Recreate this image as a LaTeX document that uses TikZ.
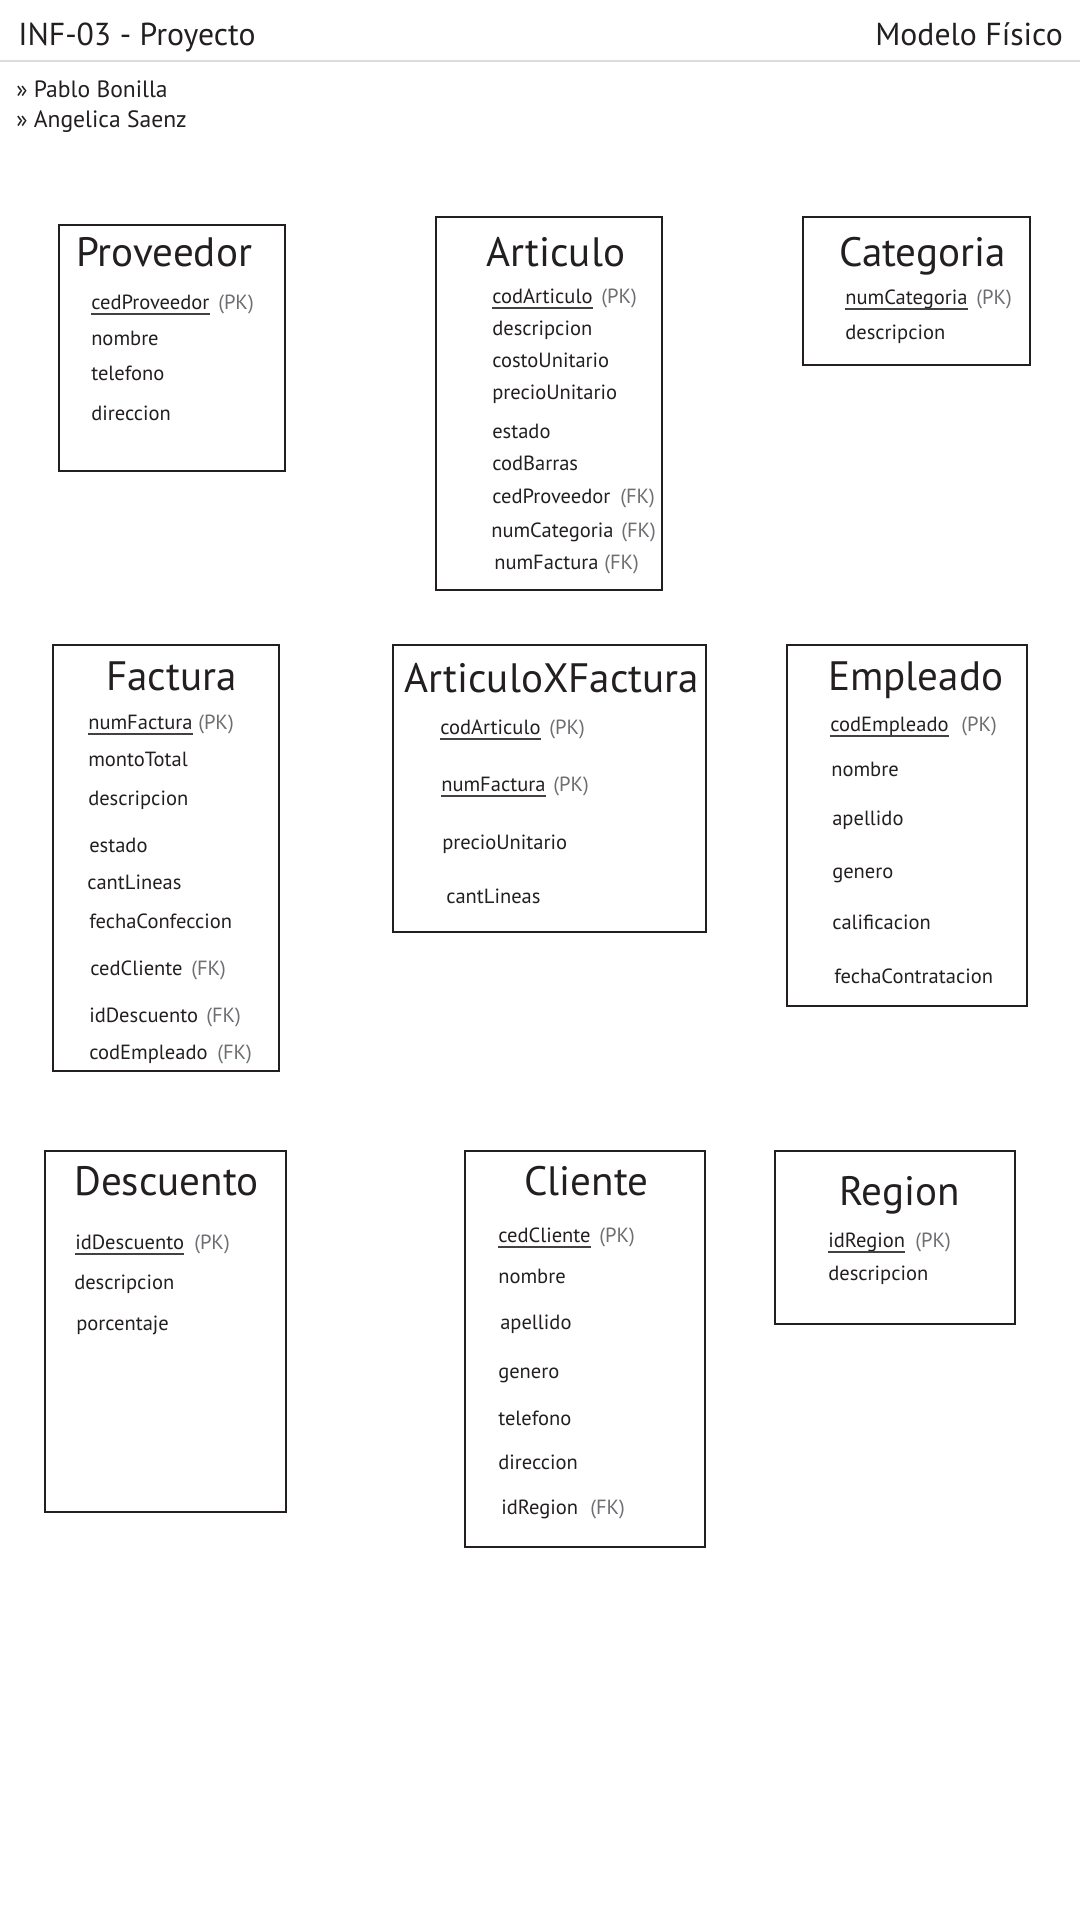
\documentclass[tikz,border=0pt]{standalone}
\usepackage{fontspec}
\setmainfont{PT Sans}
\definecolor{tinta}{HTML}{231F20}
\definecolor{gris}{HTML}{6D6E71}
\definecolor{regla}{HTML}{DCDCDC}
\newcommand{\subrayar}[1]{\draw[subr] ([shift={(0,5)}]#1.base west) -- ([shift={(0,5)}]#1.base east);}
\begin{document}
\begin{tikzpicture}[x=0.75pt, y=-0.75pt,
    caja/.style={draw=tinta, line width=0.8pt},
    titulo/.style={anchor=base west, inner sep=0pt, text=tinta, font=\fontsize{30.8}{30.8}\selectfont},
    campo/.style={anchor=base west, inner sep=0pt, text=tinta, font=\fontsize{15.4}{15.4}\selectfont},
    llave/.style={campo, text=gris},
    encab/.style={inner sep=0pt, text=tinta, font=\fontsize{23.8}{23.8}\selectfont},
    autor/.style={anchor=base west, inner sep=0pt, text=tinta, font=\fontsize{17.7}{17.7}\selectfont},
    subr/.style={draw=tinta!85, line width=0.8pt}]
    \useasboundingbox (0,0) rectangle (1080,1920);
    % encabezado
    \node[encab, anchor=base west] (proy) at (18,45) {INF-03 - Proyecto};
    \node[encab, anchor=base east] (modelo) at (1063,45) {Modelo Físico};
    \draw[regla, line width=2pt] (0,61) -- (1080,61);
    \node[autor] (aut1) at (16,97) {» Pablo Bonilla};
    \node[autor] (aut2) at (16,127) {» Angelica Saenz};
    % Proveedor
    \draw[caja] (59,225) rectangle (285,471);
    \node[titulo] (provT) at (76,266) {Proveedor};
    \node[campo] (prov1) at (91,309) {cedProveedor}; \node[llave] (prov1k) at (218,309) {(PK)};
    \node[campo] (prov2) at (91,345) {nombre};
    \node[campo] (prov3) at (91,380) {telefono};
    \node[campo] (prov4) at (91,420) {direccion};
    \subrayar{prov1}
    % Articulo
    \draw[caja] (436,217) rectangle (662,590);
    \node[titulo] (artT) at (486,266) {Articulo};
    \node[campo] (art1) at (492,303) {codArticulo}; \node[llave] (art1k) at (601,303) {(PK)};
    \node[campo] (art2) at (492,335) {descripcion};
    \node[campo] (art3) at (492,367) {costoUnitario};
    \node[campo] (art4) at (492,399) {precioUnitario};
    \node[campo] (art5) at (492,438) {estado};
    \node[campo] (art6) at (492,470) {codBarras};
    \node[campo] (art7) at (492,503) {cedProveedor}; \node[llave] (art7k) at (620,503) {(FK)};
    \node[campo] (art8) at (491,537) {numCategoria}; \node[llave] (art8k) at (621,537) {(FK)};
    \node[campo] (art9) at (494,569) {numFactura}; \node[llave] (art9k) at (604,569) {(FK)};
    \subrayar{art1}
    % Categoria
    \draw[caja] (803,217) rectangle (1030,365);
    \node[titulo] (catT) at (839,266) {Categoria};
    \node[campo] (cat1) at (845,304) {numCategoria}; \node[llave] (cat1k) at (976,304) {(PK)};
    \node[campo] (cat2) at (845,339) {descripcion};
    \subrayar{cat1}
    % Factura
    \draw[caja] (53,645) rectangle (279,1071);
    \node[titulo] (facT) at (106,690) {Factura};
    \node[campo] (fac1) at (88,729) {numFactura}; \node[llave] (fac1k) at (198,729) {(PK)};
    \node[campo] (fac2) at (88,766) {montoTotal};
    \node[campo] (fac3) at (88,805) {descripcion};
    \node[campo] (fac4) at (89,852) {estado};
    \node[campo] (fac5) at (87,889) {cantLineas};
    \node[campo] (fac6) at (89,928) {fechaConfeccion};
    \node[campo] (fac7) at (90,975) {cedCliente}; \node[llave] (fac7k) at (191,975) {(FK)};
    \node[campo] (fac8) at (89,1022) {idDescuento}; \node[llave] (fac8k) at (206,1022) {(FK)};
    \node[campo] (fac9) at (89,1059) {codEmpleado}; \node[llave] (fac9k) at (217,1059) {(FK)};
    \subrayar{fac1}
    % ArticuloXFactura
    \draw[caja] (393,645) rectangle (706,932);
    \node[titulo] (axfT) at (404,692) {ArticuloXFactura};
    \node[campo] (axf1) at (440,734) {codArticulo}; \node[llave] (axf1k) at (549,734) {(PK)};
    \node[campo] (axf2) at (441,791) {numFactura}; \node[llave] (axf2k) at (553,791) {(PK)};
    \node[campo] (axf3) at (442,849) {precioUnitario};
    \node[campo] (axf4) at (446,903) {cantLineas};
    \subrayar{axf1} \subrayar{axf2}
    % Empleado
    \draw[caja] (787,645) rectangle (1027,1006);
    \node[titulo] (empT) at (828,690) {Empleado};
    \node[campo] (emp1) at (830,731) {codEmpleado}; \node[llave] (emp1k) at (961,731) {(PK)};
    \node[campo] (emp2) at (831,776) {nombre};
    \node[campo] (emp3) at (832,825) {apellido};
    \node[campo] (emp4) at (832,878) {genero};
    \node[campo] (emp5) at (832,929) {calificacion};
    \node[campo] (emp6) at (834,983) {fechaContratacion};
    \subrayar{emp1}
    % Descuento
    \draw[caja] (45,1151) rectangle (286,1512);
    \node[titulo] (desT) at (74,1195) {Descuento};
    \node[campo] (des1) at (75,1249) {idDescuento}; \node[llave] (des1k) at (194,1249) {(PK)};
    \node[campo] (des2) at (74,1289) {descripcion};
    \node[campo] (des3) at (76,1330) {porcentaje};
    \subrayar{des1}
    % Cliente
    \draw[caja] (465,1151) rectangle (705,1547);
    \node[titulo] (cliT) at (524,1195) {Cliente};
    \node[campo] (cli1) at (498,1242) {cedCliente}; \node[llave] (cli1k) at (599,1242) {(PK)};
    \node[campo] (cli2) at (498,1283) {nombre};
    \node[campo] (cli3) at (500,1329) {apellido};
    \node[campo] (cli4) at (498,1378) {genero};
    \node[campo] (cli5) at (498,1425) {telefono};
    \node[campo] (cli6) at (498,1469) {direccion};
    \node[campo] (cli7) at (501,1514) {idRegion}; \node[llave] (cli7k) at (590,1514) {(FK)};
    \subrayar{cli1}
    % Region
    \draw[caja] (775,1151) rectangle (1015,1324);
    \node[titulo] (regT) at (839,1205) {Region};
    \node[campo] (reg1) at (828,1247) {idRegion}; \node[llave] (reg1k) at (915,1247) {(PK)};
    \node[campo] (reg2) at (828,1280) {descripcion};
    \subrayar{reg1}
\end{tikzpicture}
\end{document}
